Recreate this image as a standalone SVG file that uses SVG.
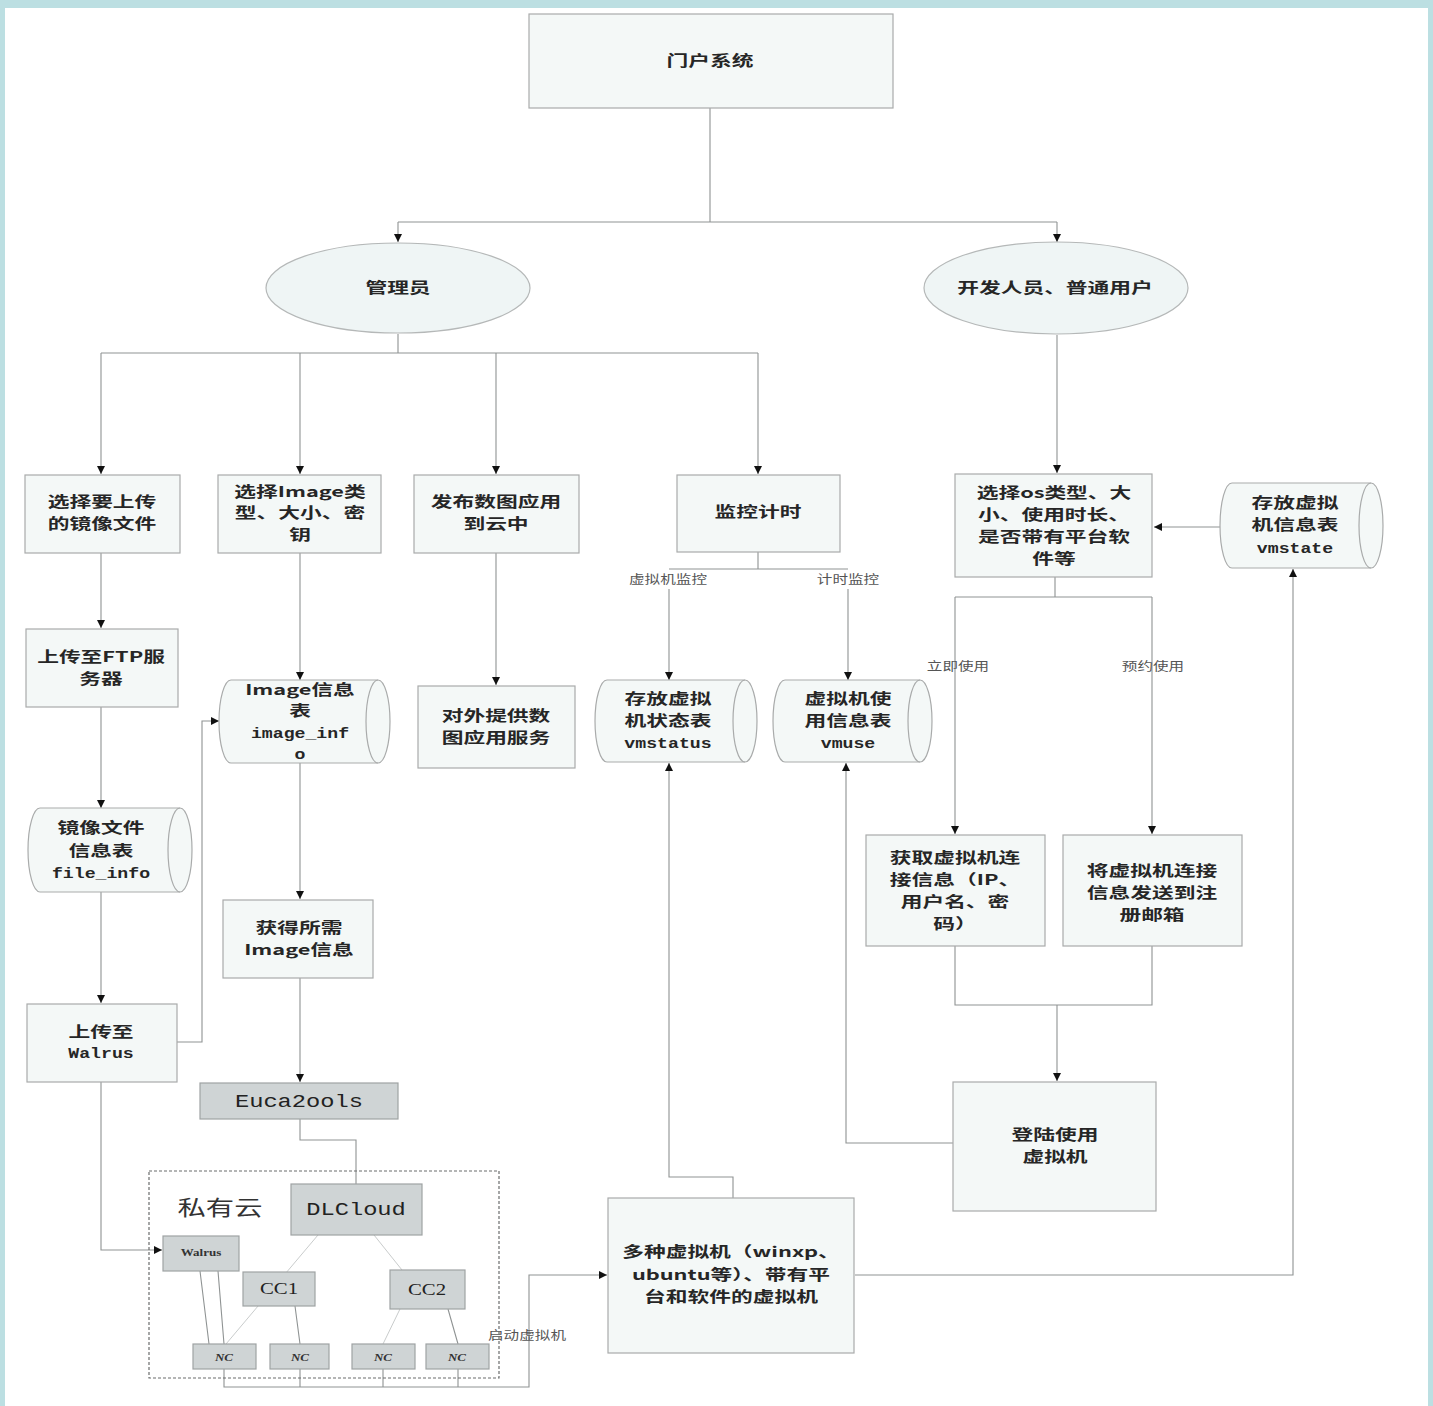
<svg xmlns="http://www.w3.org/2000/svg" width="1433" height="1406" viewBox="0 0 1433 1406">
<style>
.box{fill:#f4f8f7;stroke:#a9abab;stroke-width:1.2}
.gbox{fill:#cfd4d5;stroke:#9fa3a4;stroke-width:1.2}
.ell{fill:#eff5f5;stroke:#b5b8b8;stroke-width:1.2}
.cyl{fill:#f4f8f7;stroke:#a9abab;stroke-width:1.2}
.inner{fill:none;stroke:#a9abab;stroke-width:1.2}
.ln{fill:none;stroke:#8f9393;stroke-width:1.1}
.faint{fill:none;stroke:#c9cccc;stroke-width:1}
.arr{marker-end:url(#ah)}
text{font-family:"Noto Sans CJK SC","Noto Sans",sans-serif;fill:#262626;text-anchor:middle}
.t{font-size:14.5px;font-weight:700}
.m{font-family:"Liberation Mono","Noto Sans CJK SC",monospace;font-size:14px;font-weight:700}
.big{font-family:"Liberation Mono","Noto Sans CJK SC",monospace;font-size:19px;font-weight:400;fill:#222}
.cc{font-family:"Liberation Serif","Noto Sans CJK SC",serif;font-size:16px;font-weight:400;fill:#222}
.lab{font-size:12px;font-weight:400;fill:#555}
.sm{font-family:"Liberation Serif","Noto Sans CJK SC",serif;font-size:10px;font-weight:700;fill:#333}
.cloud{font-size:21px;font-weight:400;fill:#333}
</style>
<defs>
<marker id="ah" viewBox="0 0 10 10" refX="10" refY="5" markerWidth="9" markerHeight="8" markerUnits="userSpaceOnUse" orient="auto">
<path d="M0,0 L10,5 L0,10 z" fill="#111"/>
</marker>
</defs>
<rect x="0" y="0" width="1433" height="1406" fill="#bcdfe2"/>
<rect x="5" y="8" width="1423" height="1398" fill="#ffffff"/>

<g id="connectors">
<path class="ln" d="M710,108 V222 M398,222 H1057"/>
<path class="ln arr" d="M398,222 V242"/>
<path class="ln arr" d="M1057,222 V242"/>
<path class="ln" d="M398,334 V353 M101,353 H758"/>
<path class="ln arr" d="M101,353 V474"/>
<path class="ln arr" d="M300,353 V474"/>
<path class="ln arr" d="M496,353 V474"/>
<path class="ln arr" d="M758,353 V474"/>
<path class="ln arr" d="M1057,335 V473"/>
<path class="ln arr" d="M101,553 V628"/>
<path class="ln arr" d="M101,707 V808"/>
<path class="ln arr" d="M101,892 V1003"/>
<path class="ln arr" d="M101,1082 V1250 H162"/>
<path class="ln arr" d="M177,1042 H202 V721 H219"/>
<path class="ln arr" d="M300,553 V680"/>
<path class="ln arr" d="M300,763 V899"/>
<path class="ln arr" d="M300,978 V1082"/>
<path class="ln" d="M300,1119 V1140 H356 V1184"/>
<path class="ln arr" d="M496,553 V685"/>
<path class="ln" d="M758,552 V569 M669,569 H848"/>
<path class="ln arr" d="M669,589 V680"/>
<path class="ln arr" d="M848,589 V680"/>
<path class="ln arr" d="M1220,527 H1154"/>
<path class="ln" d="M1055,577 V597 M955,597 H1152"/>
<path class="ln arr" d="M955,597 V834"/>
<path class="ln arr" d="M1152,597 V834"/>
<path class="ln" d="M955,946 V1005 H1152 V946"/>
<path class="ln arr" d="M1057,1005 V1081"/>
<path class="ln arr" d="M953,1143 H846 V763"/>
<path class="ln arr" d="M733,1198 V1177 H669 V763"/>
<path class="ln arr" d="M855,1275 H1293 V569"/>
<path class="ln arr" d="M224,1369 V1387 H529 V1275 H607"/>
<path class="ln" d="M300,1369 V1387 M383,1369 V1387 M458,1369 V1387"/>
<path class="ln" d="M200,1271 L209,1344 M218,1271 L224,1344 M295,1306 L300,1344 M448,1309 L458,1344"/>
<path class="faint" d="M318,1235 L226,1344 M374,1235 L402,1270 M400,1309 L383,1344"/>
</g>

<g id="portal"><rect class="box" x="529" y="14" width="364" height="94"/><text class="t" transform="translate(710 66) scale(1.5 1)">门户系统</text></g>
<g id="admin"><ellipse class="ell" cx="398" cy="288" rx="132" ry="45"/><text class="t" transform="translate(398 293) scale(1.5 1)">管理员</text></g>
<g id="users"><ellipse class="ell" cx="1056" cy="288" rx="132" ry="46"/><text class="t" transform="translate(1055 293) scale(1.5 1)">开发人员、普通用户</text></g>

<g id="select-upload"><rect class="box" x="25" y="475" width="155" height="78"/>
<text class="t" transform="translate(102 507) scale(1.5 1)">选择要上传</text>
<text class="t" transform="translate(102 529) scale(1.5 1)">的镜像文件</text></g>
<g id="select-image"><rect class="box" x="218" y="475" width="163" height="78"/>
<text class="t" transform="translate(300 497) scale(1.5 1)">选择Image类</text>
<text class="t" transform="translate(300 518) scale(1.5 1)">型、大小、密</text>
<text class="t" transform="translate(300 540) scale(1.5 1)">钥</text></g>
<g id="publish"><rect class="box" x="414" y="475" width="165" height="78"/>
<text class="t" transform="translate(496 507) scale(1.5 1)">发布数图应用</text>
<text class="t" transform="translate(496 529) scale(1.5 1)">到云中</text></g>
<g id="monitor"><rect class="box" x="677" y="475" width="163" height="77"/>
<text class="t" transform="translate(758 517) scale(1.5 1)">监控计时</text></g>
<g id="select-os"><rect class="box" x="955" y="474" width="197" height="103"/>
<text class="t" transform="translate(1054 498) scale(1.5 1)">选择os类型、大</text>
<text class="t" transform="translate(1054 520) scale(1.5 1)">小、使用时长、</text>
<text class="t" transform="translate(1054 542) scale(1.5 1)">是否带有平台软</text>
<text class="t" transform="translate(1054 564) scale(1.5 1)">件等</text></g>
<g id="vmstate"><path class="cyl" d="M1232,483 H1371 A12 42.5 0 0 1 1371 568 H1232 A12 42.5 0 0 1 1232 483 Z"/><path class="inner" d="M1371,483 A12 42.5 0 0 0 1371 568"/>
<text class="t" transform="translate(1295 508) scale(1.5 1)">存放虚拟</text>
<text class="t" transform="translate(1295 530) scale(1.5 1)">机信息表</text>
<text class="m" transform="translate(1295 553) scale(1.3 1)">vmstate</text></g>

<g id="labels">
<text class="lab" transform="translate(668 584) scale(1.3 1)">虚拟机监控</text>
<text class="lab" transform="translate(848 584) scale(1.3 1)">计时监控</text>
<text class="lab" transform="translate(958 671) scale(1.3 1)">立即使用</text>
<text class="lab" transform="translate(1153 671) scale(1.3 1)">预约使用</text>
<text class="lab" transform="translate(527 1340) scale(1.3 1)">启动虚拟机</text>
</g>

<g id="ftp"><rect class="box" x="26" y="629" width="152" height="78"/>
<text class="t" transform="translate(101 662) scale(1.5 1)">上传至FTP服</text>
<text class="t" transform="translate(101 684) scale(1.5 1)">务器</text></g>
<g id="image-info"><path class="cyl" d="M231,680 H378 A12 41.5 0 0 1 378 763 H231 A12 41.5 0 0 1 231 680 Z"/><path class="inner" d="M378,680 A12 41.5 0 0 0 378 763"/>
<text class="t" transform="translate(300 695) scale(1.5 1)">Image信息</text>
<text class="t" transform="translate(300 716) scale(1.5 1)">表</text>
<text class="m" transform="translate(300 738) scale(1.3 1)">image_inf</text>
<text class="m" transform="translate(300 759) scale(1.3 1)">o</text></g>
<g id="service"><rect class="box" x="418" y="686" width="157" height="82"/>
<text class="t" transform="translate(496 721) scale(1.5 1)">对外提供数</text>
<text class="t" transform="translate(496 743) scale(1.5 1)">图应用服务</text></g>
<g id="vmstatus"><path class="cyl" d="M607,680 H745 A12 41 0 0 1 745 762 H607 A12 41 0 0 1 607 680 Z"/><path class="inner" d="M745,680 A12 41 0 0 0 745 762"/>
<text class="t" transform="translate(668 704) scale(1.5 1)">存放虚拟</text>
<text class="t" transform="translate(668 726) scale(1.5 1)">机状态表</text>
<text class="m" transform="translate(668 748) scale(1.3 1)">vmstatus</text></g>
<g id="vmuse"><path class="cyl" d="M785,680 H920 A12 41 0 0 1 920 762 H785 A12 41 0 0 1 785 680 Z"/><path class="inner" d="M920,680 A12 41 0 0 0 920 762"/>
<text class="t" transform="translate(848 704) scale(1.5 1)">虚拟机使</text>
<text class="t" transform="translate(848 726) scale(1.5 1)">用信息表</text>
<text class="m" transform="translate(848 748) scale(1.3 1)">vmuse</text></g>

<g id="file-info"><path class="cyl" d="M40,808 H180 A12 42 0 0 1 180 892 H40 A12 42 0 0 1 40 808 Z"/><path class="inner" d="M180,808 A12 42 0 0 0 180 892"/>
<text class="t" transform="translate(101 833) scale(1.5 1)">镜像文件</text>
<text class="t" transform="translate(101 856) scale(1.5 1)">信息表</text>
<text class="m" transform="translate(101 878) scale(1.3 1)">file_info</text></g>
<g id="get-image"><rect class="box" x="223" y="900" width="150" height="78"/>
<text class="t" transform="translate(299 933) scale(1.5 1)">获得所需</text>
<text class="t" transform="translate(299 955) scale(1.5 1)">Image信息</text></g>
<g id="get-conn"><rect class="box" x="866" y="835" width="179" height="111"/>
<text class="t" transform="translate(955 863) scale(1.5 1)">获取虚拟机连</text>
<text class="t" transform="translate(955 885) scale(1.5 1)">接信息（IP、</text>
<text class="t" transform="translate(955 907) scale(1.5 1)">用户名、密</text>
<text class="t" transform="translate(955 929) scale(1.5 1)">码）</text></g>
<g id="send-mail"><rect class="box" x="1063" y="835" width="179" height="111"/>
<text class="t" transform="translate(1152 876) scale(1.5 1)">将虚拟机连接</text>
<text class="t" transform="translate(1152 898) scale(1.5 1)">信息发送到注</text>
<text class="t" transform="translate(1152 920) scale(1.5 1)">册邮箱</text></g>
<g id="login"><rect class="box" x="953" y="1082" width="203" height="129"/>
<text class="t" transform="translate(1055 1140) scale(1.5 1)">登陆使用</text>
<text class="t" transform="translate(1055 1162) scale(1.5 1)">虚拟机</text></g>
<g id="upload-walrus"><rect class="box" x="27" y="1004" width="150" height="78"/>
<text class="t" transform="translate(101 1037) scale(1.5 1)">上传至</text>
<text class="m" transform="translate(101 1058) scale(1.3 1)">Walrus</text></g>
<g id="euca2ools"><rect class="gbox" x="200" y="1083" width="198" height="36"/>
<text class="big" transform="translate(299 1107) scale(1.25 1)">Euca2ools</text></g>

<g id="private-cloud">
<rect x="149" y="1171" width="350" height="207" fill="none" stroke="#6a6d6d" stroke-width="1.2" stroke-dasharray="3 2"/>
<text class="cloud" transform="translate(220 1215) scale(1.35 1)">私有云</text>
</g>
<g id="dlcloud"><rect class="gbox" x="291" y="1184" width="131" height="51"/>
<text class="big" transform="translate(356 1215) scale(1.25 1)">DLCloud</text></g>
<g id="walrus"><rect class="gbox" x="163" y="1236" width="76" height="35"/>
<text class="sm" transform="translate(201 1256) scale(1.3 1)">Walrus</text></g>
<g id="cc1"><rect class="gbox" x="243" y="1272" width="72" height="34"/>
<text class="cc" transform="translate(279 1294) scale(1.3 1)">CC1</text></g>
<g id="cc2"><rect class="gbox" x="390" y="1270" width="75" height="39"/>
<text class="cc" transform="translate(427 1295) scale(1.3 1)">CC2</text></g>
<g id="nc1"><rect class="gbox" x="193" y="1344" width="63" height="25"/><text class="sm" font-style="italic" transform="translate(224 1361) scale(1.3 1)">NC</text></g>
<g id="nc2"><rect class="gbox" x="270" y="1344" width="59" height="25"/><text class="sm" font-style="italic" transform="translate(300 1361) scale(1.3 1)">NC</text></g>
<g id="nc3"><rect class="gbox" x="352" y="1344" width="63" height="25"/><text class="sm" font-style="italic" transform="translate(383 1361) scale(1.3 1)">NC</text></g>
<g id="nc4"><rect class="gbox" x="426" y="1344" width="63" height="25"/><text class="sm" font-style="italic" transform="translate(457 1361) scale(1.3 1)">NC</text></g>

<g id="vms"><rect class="box" x="608" y="1198" width="246" height="155"/>
<text class="t" transform="translate(731 1257) scale(1.5 1)">多种虚拟机（winxp、</text>
<text class="t" transform="translate(731 1280) scale(1.5 1)">ubuntu等）、带有平</text>
<text class="t" transform="translate(731 1302) scale(1.5 1)">台和软件的虚拟机</text></g>
</svg>
